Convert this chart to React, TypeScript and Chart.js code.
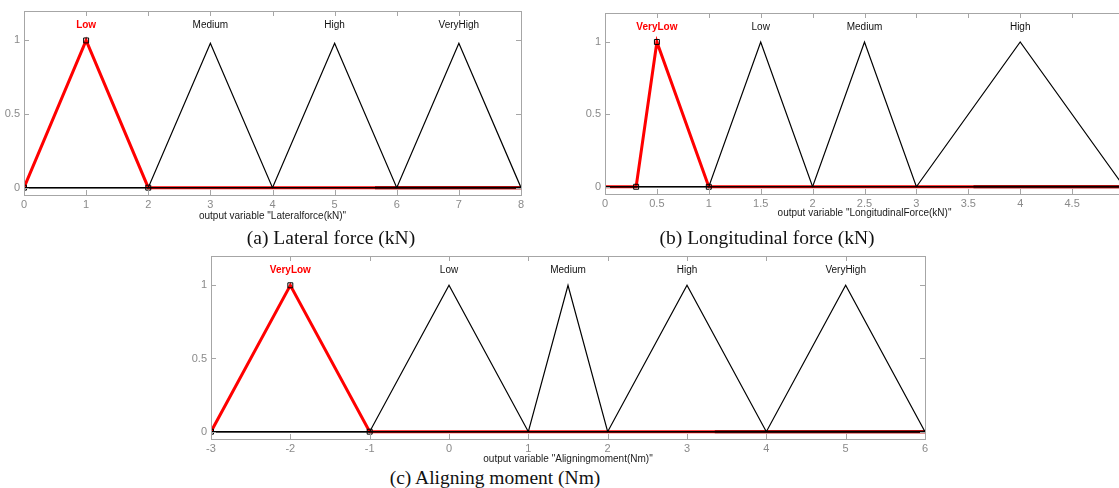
import React, { useEffect, useRef } from "react";
import { Chart, registerables } from "chart.js";

Chart.register(...registerables);

// ---------- data ----------
const Y_TICKS = [0, 0.5, 1];

const LAT_RANGE = [0, 8];
const LAT_NAMES = ["Low", "Medium", "High", "VeryHigh"];
const LAT_PARAMS = [[0, 1, 2], [2, 3, 4], [4, 5, 6], [6, 7, 8]];
const LAT_PEAKS = [1, 0.98, 0.98, 0.98];
const LAT_XTICKS = [0, 1, 2, 3, 4, 5, 6, 7, 8];
const LAT_DARK = [5.65, 8];

const LON_RANGE = [0, 5];
const LON_NAMES = ["VeryLow", "Low", "Medium", "High"];
const LON_PARAMS = [[0.3, 0.5, 1], [1, 1.5, 2], [2, 2.5, 3], [3, 4, 5]];
const LON_PEAKS = [1, 1, 1, 1];
const LON_XTICKS = [0, 0.5, 1, 1.5, 2, 2.5, 3, 3.5, 4, 4.5, 5];
const LON_DARK = [3.55, 5];

const ALN_RANGE = [-3, 6];
const ALN_NAMES = ["VeryLow", "Low", "Medium", "High", "VeryHigh"];
const ALN_PARAMS = [[-3, -2, -1], [-1, 0, 1], [1, 1.5, 2], [2, 3, 4], [4, 5, 6]];
const ALN_PEAKS = [1, 1, 1, 1, 1];
const ALN_XTICKS = [-3, -2, -1, 0, 1, 2, 3, 4, 5, 6];
const ALN_DARK = [3.35, 6];

const SANS = "'Liberation Sans', Arial, sans-serif";
const GRAY = "#8a8a8a";

const mfPlugin = {
  id: "mfDecor",
  afterDraw(chart: any, _args: any, opts: any) {
    const { ctx, chartArea: a, scales } = chart;
    const xs = scales.x;
    const ys = scales.y;
    ctx.save();
    // box
    ctx.strokeStyle = "#a6a6a6";
    ctx.lineWidth = 1;
    ctx.strokeRect(a.left + 0.5, a.top + 0.5, a.right - a.left, a.bottom - a.top);
    // inward ticks
    ctx.beginPath();
    const tl = 5;
    for (const t of xs.ticks) {
      const px = Math.round(xs.getPixelForValue(t.value)) + 0.5;
      ctx.moveTo(px, a.bottom);
      ctx.lineTo(px, a.bottom - tl);
      ctx.moveTo(px, a.top);
      ctx.lineTo(px, a.top + tl);
    }
    for (const t of ys.ticks) {
      const py = Math.round(ys.getPixelForValue(t.value)) + 0.5;
      ctx.moveTo(a.left, py);
      ctx.lineTo(a.left + tl, py);
      ctx.moveTo(a.right, py);
      ctx.lineTo(a.right - tl, py);
    }
    ctx.stroke();
    // mf names
    const names: string[] = opts.names || [];
    const params: number[][] = opts.params || [];
    ctx.textAlign = "center";
    ctx.textBaseline = "middle";
    names.forEach((n, i) => {
      const sel = i === opts.selected;
      ctx.font = (sel ? "bold " : "") + "10px " + SANS;
      ctx.fillStyle = sel ? "#ff0000" : "#111";
      ctx.fillText(n, xs.getPixelForValue(params[i][1]), ys.getPixelForValue(1.1));
    });
    ctx.restore();
  },
};

type Props = {
  left: number;
  top: number;
  width: number;
  height: number;
  xAxisH: number;
  padTop: number;
  range: number[];
  names: string[];
  params: number[][];
  peaks: number[];
  xticks: number[];
  dark: number[];
  label: string;
};

function MFChart(p: Props) {
  const ref = useRef<HTMLCanvasElement>(null);
  useEffect(() => {
    const sel = 0;
    const tri = (i: number) => [
      { x: p.range[0], y: 0 },
      { x: p.params[i][0], y: 0 },
      { x: p.params[i][1], y: p.peaks[i] },
      { x: p.params[i][2], y: 0 },
      { x: p.range[1], y: 0 },
    ];
    const datasets: any[] = [];
    p.names.forEach((n, i) => {
      if (i === sel) return;
      datasets.push({
        label: n,
        data: tri(i),
        borderColor: "#000",
        borderWidth: 1.2,
        pointRadius: 0,
        order: 1,
      });
    });
    datasets.push({
      label: "dark",
      data: p.dark.map((x) => ({ x, y: 0 })),
      borderColor: "#8b0000",
      borderWidth: 3,
      pointRadius: 0,
      order: 2,
    });
    datasets.push({
      label: p.names[sel],
      data: tri(sel),
      borderColor: "#ff0000",
      borderWidth: 3,
      pointRadius: 0,
      order: 3,
    });
    datasets.push({
      label: "vertices",
      data: [
        { x: p.params[sel][0], y: 0 },
        { x: p.params[sel][1], y: p.peaks[sel] },
        { x: p.params[sel][2], y: 0 },
      ],
      showLine: false,
      pointStyle: "rect",
      pointRadius: 3.5,
      pointBorderColor: "#000",
      pointBackgroundColor: "rgba(0,0,0,0)",
      pointBorderWidth: 1,
      order: 0,
    });
    const chart = new Chart(ref.current!, {
      type: "line",
      data: { datasets },
      plugins: [mfPlugin],
      options: {
        animation: false,
        responsive: false,
        devicePixelRatio: 1,
        events: [],
        layout: { padding: { top: p.padTop, right: 10, left: 0, bottom: 0 } },
        elements: { line: { tension: 0, fill: false } },
        plugins: {
          legend: { display: false },
          tooltip: { enabled: false },
          mfDecor: { names: p.names, params: p.params, selected: sel },
        } as any,
        scales: {
          x: {
            type: "linear",
            min: p.range[0],
            max: p.range[1],
            afterBuildTicks: (s: any) => {
              s.ticks = p.xticks.map((v) => ({ value: v }));
            },
            afterFit: (s: any) => {
              s.height = p.xAxisH;
            },
            grid: { display: false, drawTicks: false },
            border: { display: false },
            ticks: {
              padding: 3,
              color: GRAY,
              font: { family: SANS, size: 11 },
              maxRotation: 0,
              autoSkip: false,
              callback: (v: any) => String(v),
            },
            title: {
              display: true,
              text: p.label,
              color: "#1a1a1a",
              font: { family: SANS, size: 10 },
              padding: 0,
            },
          },
          y: {
            type: "linear",
            min: -0.05,
            max: 1.2,
            afterBuildTicks: (s: any) => {
              s.ticks = Y_TICKS.map((v) => ({ value: v }));
            },
            afterFit: (s: any) => {
              s.width = 24;
            },
            grid: { display: false, drawTicks: false },
            border: { display: false },
            ticks: {
              padding: 4,
              color: GRAY,
              font: { family: SANS, size: 11 },
              callback: (v: any) => String(v),
            },
          },
        },
      },
    });
    return () => chart.destroy();
  }, []);
  return (
    <canvas
      ref={ref}
      width={p.width}
      height={p.height}
      style={{ position: "absolute", left: p.left, top: p.top, width: p.width, height: p.height, display: "block" }}
    />
  );
}

const capStyle = (cx: number, cy: number): React.CSSProperties => ({
  position: "absolute",
  left: cx,
  top: cy,
  transform: "translate(-50%, -50%)",
  fontFamily: "'Liberation Serif', 'Times New Roman', serif",
  fontSize: 19.5,
  lineHeight: 1,
  whiteSpace: "nowrap",
  color: "#111",
});

export default function App() {
  return (
    <div style={{ position: "fixed", left: 0, top: 0, width: 1119, height: 488, overflow: "hidden", background: "#fff" }}>
      <MFChart
        left={0}
        top={0}
        width={531}
        height={222}
        xAxisH={27}
        padTop={11}
        range={LAT_RANGE}
        names={LAT_NAMES}
        params={LAT_PARAMS}
        peaks={LAT_PEAKS}
        xticks={LAT_XTICKS}
        dark={LAT_DARK}
        label={'output variable "Lateralforce(kN)"'}
      />
      <MFChart
        left={581}
        top={0}
        width={553}
        height={219}
        xAxisH={25}
        padTop={13}
        range={LON_RANGE}
        names={LON_NAMES}
        params={LON_PARAMS}
        peaks={LON_PEAKS}
        xticks={LON_XTICKS}
        dark={LON_DARK}
        label={'output variable "LongitudinalForce(kN)"'}
      />
      <MFChart
        left={187}
        top={245}
        width={748}
        height={220}
        xAxisH={26}
        padTop={11}
        range={ALN_RANGE}
        names={ALN_NAMES}
        params={ALN_PARAMS}
        peaks={ALN_PEAKS}
        xticks={ALN_XTICKS}
        dark={ALN_DARK}
        label={'output variable "Aligningmoment(Nm)"'}
      />
      <div style={capStyle(331, 238)}>(a) Lateral force (kN)</div>
      <div style={capStyle(767, 238)}>(b) Longitudinal force (kN)</div>
      <div style={capStyle(495, 478)}>(c) Aligning moment (Nm)</div>
    </div>
  );
}
